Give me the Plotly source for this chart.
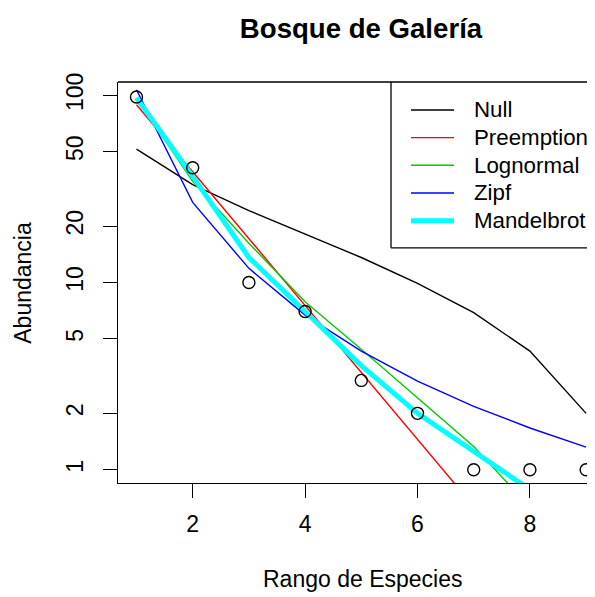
import plotly.graph_objects as go

rank = [1, 2, 3, 4, 5, 6, 7, 8, 9]
abundancia = [98, 41, 10, 7, 3, 2, 1, 1, 1]
null_fit = [51.6, 33.3, 24.2, 18.1, 13.6, 9.9, 6.9, 4.3, 2.0]
preemption_fit = [89, 39.0, 17.1, 7.5, 3.29, 1.44, 0.63, 0.28, 0.12]
lognormal_fit = [96, 34.7, 16.2, 7.9, 4.4, 2.43, 1.33, 0.63, 0.26]
zipf_fit = [107, 26.8, 11.9, 6.7, 4.3, 2.97, 2.18, 1.67, 1.32]
mandelbrot_fit = [97, 36.9, 13.6, 7.0, 3.6, 2.0, 1.24, 0.77, 0.49]

model_names = ["Null", "Preemption", "Lognormal", "Zipf", "Mandelbrot"]
model_values = [null_fit, preemption_fit, lognormal_fit, zipf_fit, mandelbrot_fit]
model_colors = ["#000000", "#FF0000", "#00CD00", "#0000FF", "#00FFFF"]
model_widths = [1.4, 1.4, 1.4, 1.4, 5]

x_ticks = [2, 4, 6, 8]
y_ticks = [1, 2, 5, 10, 20, 50, 100]

FONT = "Liberation Sans, Arial, Helvetica, sans-serif"
FS = 23
FS_LEG = 22.3
OFF = 8  # default page body margin
W, H = 595 - OFF, 597 - OFF
PL, PT, PB = 118, 82, 483.5  # plot edges in page pixels
L, R, T, B = PL - OFF, 0, PT - OFF, (597 - PB)

fig = go.Figure()

for name, vals, col, wd in zip(model_names, model_values, model_colors, model_widths):
    fig.add_trace(go.Scatter(x=rank, y=vals, mode="lines", name=name,
                             line=dict(color=col, width=wd), showlegend=False))

fig.add_trace(go.Scatter(x=rank, y=abundancia, mode="markers", name="Observado",
                         marker=dict(symbol="circle-open", size=12, color="#000000",
                                     line=dict(width=1.4, color="#000000")),
                         showlegend=False))

def px_x(p):
    return (p - PL) / (595 - PL)

def px_y(p):
    return (PB - p) / (PB - PT)

shapes = []
shapes.append(dict(type="line", xref="paper", yref="paper", x0=0, x1=1, y0=1, y1=1,
                   line=dict(color="#000000", width=1.3)))
lx0 = px_x(391)
ly0 = px_y(248)
shapes.append(dict(type="line", xref="paper", yref="paper", x0=lx0, x1=lx0, y0=ly0, y1=1,
                   line=dict(color="#000000", width=1.3)))
shapes.append(dict(type="line", xref="paper", yref="paper", x0=lx0, x1=1.01, y0=ly0, y1=ly0,
                   line=dict(color="#000000", width=1.3)))

annotations = []
for i, (name, col, wd) in enumerate(zip(model_names, model_colors, model_widths)):
    yy = px_y(110 + 27.7 * i)
    shapes.append(dict(type="line", xref="paper", yref="paper", x0=px_x(411), x1=px_x(454),
                       y0=yy, y1=yy, line=dict(color=col, width=wd)))
    annotations.append(dict(text=name, xref="paper", yref="paper", x=px_x(472), y=yy,
                            xanchor="left", yanchor="middle", showarrow=False,
                            font=dict(family=FONT, size=FS_LEG, color="#000000")))

annotations.append(dict(text="Rango de Especies", xref="paper", yref="paper",
                        x=px_x(362), y=px_y(580), xanchor="center", yanchor="middle",
                        showarrow=False, font=dict(family=FONT, size=FS, color="#000000")))
annotations.append(dict(text="Abundancia", xref="paper", yref="paper",
                        x=px_x(23), y=px_y(283), xanchor="center", yanchor="middle",
                        textangle=-90, showarrow=False,
                        font=dict(family=FONT, size=FS, color="#000000")))

fig.update_layout(
    width=W, height=H,
    margin=dict(l=L, r=R, t=T, b=B, pad=0),
    paper_bgcolor="white", plot_bgcolor="white",
    title=dict(text="<b>Bosque de Galería</b>", x=(361 - OFF) / W,
               xanchor="center", y=1 - (28 - OFF) / H, yanchor="middle",
               font=dict(family=FONT, size=27.6, color="#000000")),
    shapes=shapes, annotations=annotations,
    showlegend=False,
)

fig.update_xaxes(range=[0.671, 9.158], tickvals=x_ticks, ticktext=[str(v) for v in x_ticks],
                 ticks="outside", ticklen=14, tickwidth=1.3, tickcolor="#000000",
                 showline=True, linecolor="#000000", linewidth=1.3, mirror=False,
                 showgrid=False, zeroline=False, ticklabelstandoff=6,
                 tickfont=dict(family=FONT, size=FS, color="#000000"))
fig.update_yaxes(type="log", range=[-0.071, 2.071], tickvals=y_ticks,
                 ticktext=[str(v) for v in y_ticks], tickangle=-90,
                 ticks="outside", ticklen=14, tickwidth=1.3, tickcolor="#000000",
                 showline=True, linecolor="#000000", linewidth=1.3, mirror=False,
                 showgrid=False, zeroline=False, ticklabelstandoff=11,
                 tickfont=dict(family=FONT, size=FS, color="#000000"))

fig.write_html("out.html")
